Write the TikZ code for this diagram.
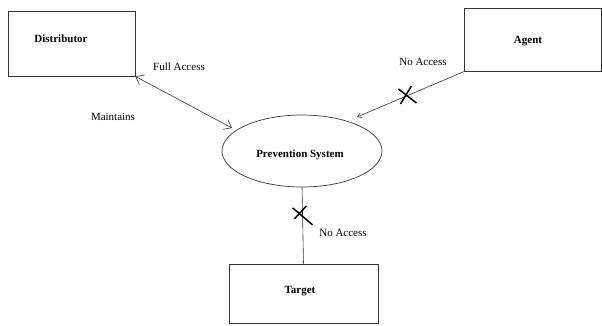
\documentclass[tikz,border=0pt]{standalone}
\usepackage{fontspec}
\setmainfont{Liberation Serif}
\usetikzlibrary{shapes.geometric,arrows.meta}
\begin{document}
\begin{tikzpicture}[x=1pt,y=-1pt,
  box/.style={draw=black!80,line width=0.7pt,rectangle,inner sep=0pt},
  btxt/.style={font=\fontsize{11}{13}\selectfont\bfseries,inner sep=0pt},
  ltxt/.style={font=\fontsize{11}{13}\selectfont,inner sep=0pt},
  conn/.style={draw=black!80,line width=0.6pt},
  barb/.tip={Straight Barb[length=7pt,width=11pt,line width=0.6pt]},
  xmark/.style={draw=black,line width=1.5pt}]
\useasboundingbox (0,0) rectangle (602,325);
% boxes
\node[box,minimum width=127pt,minimum height=65pt] (dist) at (71.5,43.5) {};
\node[btxt] (disttxt) at (61,39) {Distributor};
\node[box,minimum width=137pt,minimum height=63pt] (agent) at (533.3,39.5) {};
\node[btxt] (agenttxt) at (528,41) {Agent};
\node[box,minimum width=149pt,minimum height=59pt] (target) at (303.5,293.5) {};
\node[btxt] (targettxt) at (300,291) {Target};
\node[draw=black!80,line width=0.7pt,ellipse,minimum width=160pt,minimum height=72pt,inner sep=0pt] (ps) at (302,151) {};
\node[btxt] (pstxt) at (300,155) {Prevention System};
\coordinate (pd) at (232,128);
\coordinate (pa) at (357,117);
% connectors
\draw[conn,barb-barb] (dist.south east) -- (pd);
\draw[conn,-{Straight Barb[length=4pt,width=5pt,line width=0.6pt]}] (agent.south west) -- (pa) coordinate[pos=0.54] (xa);
\draw[conn] (ps.south) -- (target.north) coordinate[pos=0.36] (xt);
% crosses
\draw[xmark] ([shift={(-8,-7)}]xa) -- ([shift={(10,7)}]xa);
\draw[xmark] ([shift={(-6,8)}]xa) -- ([shift={(5,-10)}]xa);
\draw[xmark] ([shift={(-10,-7)}]xt) -- ([shift={(10,10)}]xt);
\draw[xmark] ([shift={(-8,4)}]xt) -- ([shift={(4,-9)}]xt);
% labels
\node[ltxt] (fa) at (179,67) {Full Access};
\node[ltxt] (mt) at (113,117) {Maintains};
\node[ltxt] (na1) at (423,62) {No Access};
\node[ltxt] (na2) at (343,233) {No Access};
\end{tikzpicture}
\end{document}
